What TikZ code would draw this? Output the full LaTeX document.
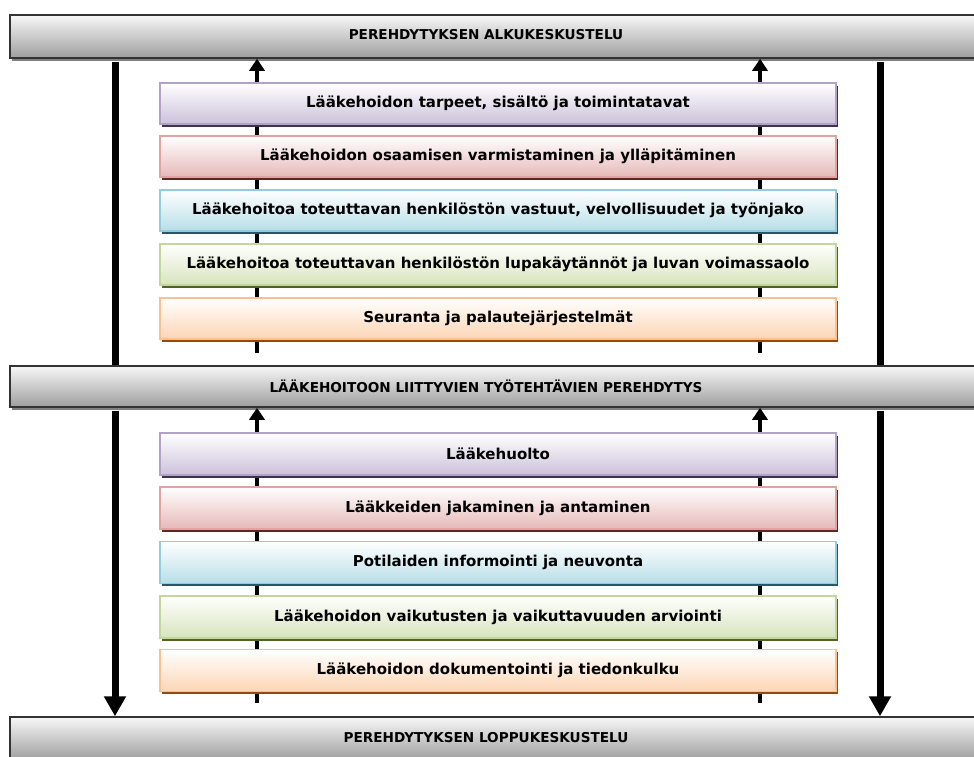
\documentclass[tikz,border=0pt]{standalone}
\usepackage{fontspec}
\setmainfont{DejaVu Sans}
\usetikzlibrary{arrows.meta,calc,shadows}

% box colours: gradient end, border, shadow
\definecolor{purF}{HTML}{CCC1DA}\definecolor{purD}{HTML}{B3A2C7}\definecolor{purS}{HTML}{403152}
\definecolor{redF}{HTML}{E6B9B8}\definecolor{redD}{HTML}{E0A3A2}\definecolor{redS}{HTML}{632523}
\definecolor{cyaF}{HTML}{B7DEE8}\definecolor{cyaD}{HTML}{93CDDD}\definecolor{cyaS}{HTML}{215968}
\definecolor{greF}{HTML}{D7E4BD}\definecolor{greD}{HTML}{C3D69B}\definecolor{greS}{HTML}{4F6228}
\definecolor{oraF}{HTML}{FCD5B5}\definecolor{oraD}{HTML}{FAC090}\definecolor{oraS}{HTML}{984807}

\tikzset{
  bar/.style={draw=black!80, line width=1.5pt, minimum width=972pt, minimum height=43pt,
    top color=white!97!black, bottom color=black!38,
    drop shadow={shadow xshift=2pt, shadow yshift=-3pt, fill=black!50, opacity=1}},
  bartext/.style={font=\fontsize{13.6}{15}\selectfont\bfseries, text=black, inner sep=0pt},
  item/.style n args={3}{draw=#2, line width=1.2pt, minimum width=676pt, minimum height=41pt,
    top color=white, bottom color=#1,
    font=\fontsize{15}{17}\selectfont\bfseries, text=black,
    drop shadow={shadow xshift=2pt, shadow yshift=-2.5pt, fill=#3, opacity=1}},
  pur/.style={item={purF}{purD}{purS}},
  red/.style={item={redF}{redD}{redS}},
  cya/.style={item={cyaF}{cyaD}{cyaS}},
  gre/.style={item={greF}{greD}{greS}},
  ora/.style={item={oraF}{oraD}{oraS}},
  mainline/.style={line width=7pt},
  mainarrow/.style={line width=7pt, -{Triangle[width=21pt,length=20pt]}},
  backarrow/.style={line width=4pt, -{Triangle[width=15pt,length=12pt]}}
}

\begin{document}
\begin{tikzpicture}[x=1pt, y=-1pt]
\useasboundingbox (0,0) rectangle (974,756);
\fill[white] (0,0) rectangle (974,756);

% column positions of the connectors
\coordinate (lx) at (115,0);
\coordinate (rx) at (880,0);
\coordinate (ax) at (257,0);
\coordinate (bx) at (760,0);

% horizontal bars
\node[bar] (top) at (496,36.5) {};
\node[bar, minimum height=41pt] (mid) at (496,386.5) {};
\node[bar] (bot) at (496,738.5) {};

% upward arrows behind the item boxes
\coordinate (aend1) at (257,353);
\coordinate (bend1) at (760,353);
\coordinate (aend2) at (257,703);
\coordinate (bend2) at (760,703);
\draw[backarrow] (aend1) -- (top.south -| ax);
\draw[backarrow] (bend1) -- (top.south -| bx);
\draw[backarrow] (aend2) -- (mid.south -| ax);
\draw[backarrow] (bend2) -- (mid.south -| bx);

% main flow lines on both sides
\draw[mainline] ($(top.south -| lx)+(0,3)$) -- (mid.north -| lx);
\draw[mainline] ($(top.south -| rx)+(0,3)$) -- (mid.north -| rx);
\draw[mainarrow] ($(mid.south -| lx)+(0,3)$) -- (bot.north -| lx);
\draw[mainarrow] ($(mid.south -| rx)+(0,3)$) -- (bot.north -| rx);

% bar titles
\node[bartext] (toptext) at (486,35) {PEREHDYTYKSEN ALKUKESKUSTELU};
\node[bartext] (midtext) at (486,386.5) {LÄÄKEHOITOON LIITTYVIEN TYÖTEHTÄVIEN PEREHDYTYS};
\node[bartext] (bottext) at (486,737.5) {PEREHDYTYKSEN LOPPUKESKUSTELU};

% first group of items
\node[pur] (u1) at (498,103.5) {Lääkehoidon tarpeet, sisältö ja toimintatavat};
\node[red] (u2) at (498,156.5) {Lääkehoidon osaamisen varmistaminen ja ylläpitäminen};
\node[cya] (u3) at (498,210.5) {Lääkehoitoa toteuttavan henkilöstön vastuut, velvollisuudet ja työnjako};
\node[gre] (u4) at (498,264.5) {Lääkehoitoa toteuttavan henkilöstön lupakäytännöt ja luvan voimassaolo};
\node[ora] (u5) at (498,318.5) {Seuranta ja palautejärjestelmät};

% second group of items
\node[pur, minimum height=42pt] (l1) at (498,454) {Lääkehuolto};
\node[red, minimum height=42pt] (l2) at (498,508) {Lääkkeiden jakaminen ja antaminen};
\node[cya, minimum height=42pt] (l3) at (498,562.5) {Potilaiden informointi ja neuvonta};
\node[gre, minimum height=42pt] (l4) at (498,617) {Lääkehoidon vaikutusten ja vaikuttavuuden arviointi};
\node[ora, minimum height=42pt] (l5) at (498,670.5) {Lääkehoidon dokumentointi ja tiedonkulku};
\end{tikzpicture}
\end{document}
